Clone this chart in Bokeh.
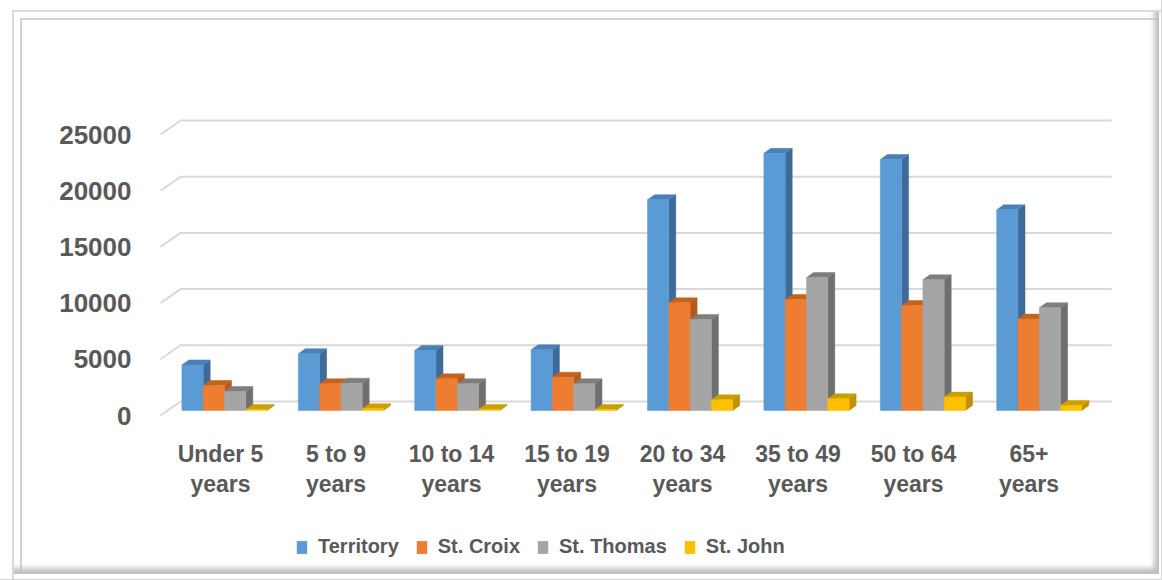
from bokeh.plotting import figure
from bokeh.layouts import column
from bokeh.models import (Range1d, LinearAxis, FixedTicker, Legend, LegendItem)
from bokeh.embed import file_html
from bokeh.resources import INLINE

# ---------------- data ----------------
categories = ["Under 5\nyears", "5 to 9\nyears", "10 to 14\nyears", "15 to 19\nyears",
              "20 to 34\nyears", "35 to 49\nyears", "50 to 64\nyears", "65+\nyears"]
territory = [4050, 5050, 5340, 5400, 18750, 22880, 22330, 17850]
st_croix = [2220, 2380, 2820, 2960, 9580, 9880, 9340, 8130]
st_thomas = [1690, 2430, 2380, 2380, 8100, 11830, 11630, 9140]
st_john = [100, 150, 100, 80, 950, 1040, 1190, 450]
series_names = ["Territory", "St. Croix", "St. Thomas", "St. John"]
y_ticks = [0, 5000, 10000, 15000, 20000, 25000]

# ---------------- styles ----------------
front_colors = ["#5B9BD5", "#ED7D31", "#A5A5A5", "#FFC000"]
side_colors = ["#3D6A96", "#B35A1F", "#6F6F6F", "#BF9000"]
top_colors = ["#4A80B5", "#C4621E", "#7E7E7E", "#C9A000"]
TXT = "#595959"
FONT = "Liberation Sans"

W, H = 1162, 527          # main chart
LH = 53                   # legend strip below it
ML, MR, MT, MB = 150, 12, 40, 102
cx0, cstep = 224.0, 116.4          # front cluster centres (px)
lx0, lstep = 220.0, 115.5          # label centres (px)
y0px, ypx_per = 410.0, 56.2 / 5000  # value baseline and scale
fl, fr = ML, W - MR
ft, fb = MT, H - MB

xr = Range1d((fl - cx0) / cstep, (fr - cx0) / cstep)
yr = Range1d((y0px - fb) / ypx_per, (y0px - ft) / ypx_per)
lab_shift = 5 / ypx_per          # labels sit 5px lower (front edge of floor)
back_shift = 9 / ypx_per         # back wall sits 9px higher
dx = 7 / cstep                   # depth offsets
dy = 5 / ypx_per
bw = 21.3 / cstep                # bar width

p = figure(width=W, height=H, output_backend="svg", toolbar_location=None,
           x_range=xr, y_range=yr, x_axis_type=None, y_axis_type=None,
           min_border_left=ML, min_border_right=MR, min_border_top=MT,
           min_border_bottom=MB)
p.outline_line_color = None
p.border_fill_alpha = 0
p.background_fill_alpha = 0

# ---------------- gridlines (back wall + left wall diagonal) ----------------
gx_front = (160 - cx0) / cstep
gx_back = (180 - cx0) / cstep
gx_right = (1111 - cx0) / cstep
gxs, gys = [], []
for t in y_ticks:
    gxs.append([gx_front, gx_back, gx_right])
    gys.append([t - lab_shift, t + back_shift, t + back_shift])
p.multi_line(gxs, gys, line_color="#d9d9d9", line_width=2)

# ---------------- 3-D bars ----------------
all_series = [territory, st_croix, st_thomas, st_john]
for k, vals in enumerate(all_series):
    xs_c = [i + (k - 1.5) * bw for i in range(len(categories))]
    sx, sy, tx, ty = [], [], [], []
    for xc, v in zip(xs_c, vals):
        x0, x1 = xc - bw / 2, xc + bw / 2
        sx.append([x1, x1 + dx, x1 + dx, x1])
        sy.append([0, dy, v + dy, v])
        tx.append([x0, x0 + dx, x1 + dx, x1])
        ty.append([v, v + dy, v + dy, v])
    p.patches(sx, sy, fill_color=side_colors[k], line_color=side_colors[k], line_width=0.5)
    p.patches(tx, ty, fill_color=top_colors[k], line_color=top_colors[k], line_width=0.5)
    p.vbar(x=xs_c, top=vals, bottom=0, width=bw, fill_color=front_colors[k],
           line_color=front_colors[k], line_width=0.5)

# ---------------- axes ----------------
p.extra_y_ranges = {"lab": Range1d(yr.start + lab_shift, yr.end + lab_shift)}
yax = LinearAxis(y_range_name="lab", ticker=FixedTicker(ticks=y_ticks))
yax.axis_line_color = None
yax.major_tick_line_color = None
yax.minor_tick_line_color = None
yax.major_tick_out = 0
yax.major_label_standoff = 19
yax.major_label_text_font = FONT
yax.major_label_text_font_style = "bold"
yax.major_label_text_font_size = "26px"
yax.major_label_text_color = TXT
p.add_layout(yax, "left")

p.extra_x_ranges = {"lab": Range1d((fl - lx0) / lstep, (fr - lx0) / lstep)}
xax = LinearAxis(x_range_name="lab", ticker=FixedTicker(ticks=list(range(len(categories)))))
xax.major_label_overrides = {i: c for i, c in enumerate(categories)}
xax.axis_line_color = None
xax.major_tick_line_color = None
xax.minor_tick_line_color = None
xax.major_tick_out = 0
xax.major_label_standoff = 15
xax.major_label_text_font = FONT
xax.major_label_text_font_style = "bold"
xax.major_label_text_font_size = "23px"
xax.major_label_text_color = TXT
xax.major_label_text_line_height = 1.17
p.add_layout(xax, "below")

# ---------------- legend strip (frame aligned with the chart's frame) ----------------
pl = figure(width=W, height=LH, output_backend="svg", toolbar_location=None,
            x_range=Range1d(0, 1), y_range=Range1d(0, 1),
            x_axis_type=None, y_axis_type=None, min_border=0)
pl.outline_line_color = None
pl.border_fill_alpha = 0
pl.background_fill_alpha = 0
legend_renderers = []
for k in range(len(series_names)):
    # swatch carriers, placed outside the visible range
    legend_renderers.append(pl.vbar(x=[-5], top=[-5], bottom=[-6], width=0.1,
                                    fill_color=front_colors[k], line_color=None))
legend = Legend(items=[LegendItem(label=n, renderers=[r]) for n, r in zip(series_names, legend_renderers)],
                orientation="horizontal", location=(295 - ML, 22))
legend.label_text_font = FONT
legend.label_text_font_style = "bold"
legend.label_text_font_size = "20px"
legend.label_text_color = TXT
legend.glyph_width = 13
legend.glyph_height = 16
legend.label_standoff = 10
legend.spacing = 16
legend.padding = 0
legend.margin = 0
legend.border_line_alpha = 0
legend.background_fill_alpha = 0
pl.add_layout(legend, "center")

page = column(p, pl, spacing=0)
page.styles = {
    "background-color": "#ffffff",
    "box-shadow": ", ".join([
        "inset -1px -1px 0 0 #d6d6d6",
        "inset 12px 10px 0 0 #ffffff",
        "inset 14px 12px 0 0 #dadada",
        "inset -3px -6px 0 0 #ffffff",
        "inset -8px -12px 5px 0 #c2c2c2",
        "inset 20px 18px 0 0 #ffffff",
        "inset 22px 20px 0 0 #d2d2d2",
    ]),
}

open("out.html", "w").write(file_html(page, INLINE))
